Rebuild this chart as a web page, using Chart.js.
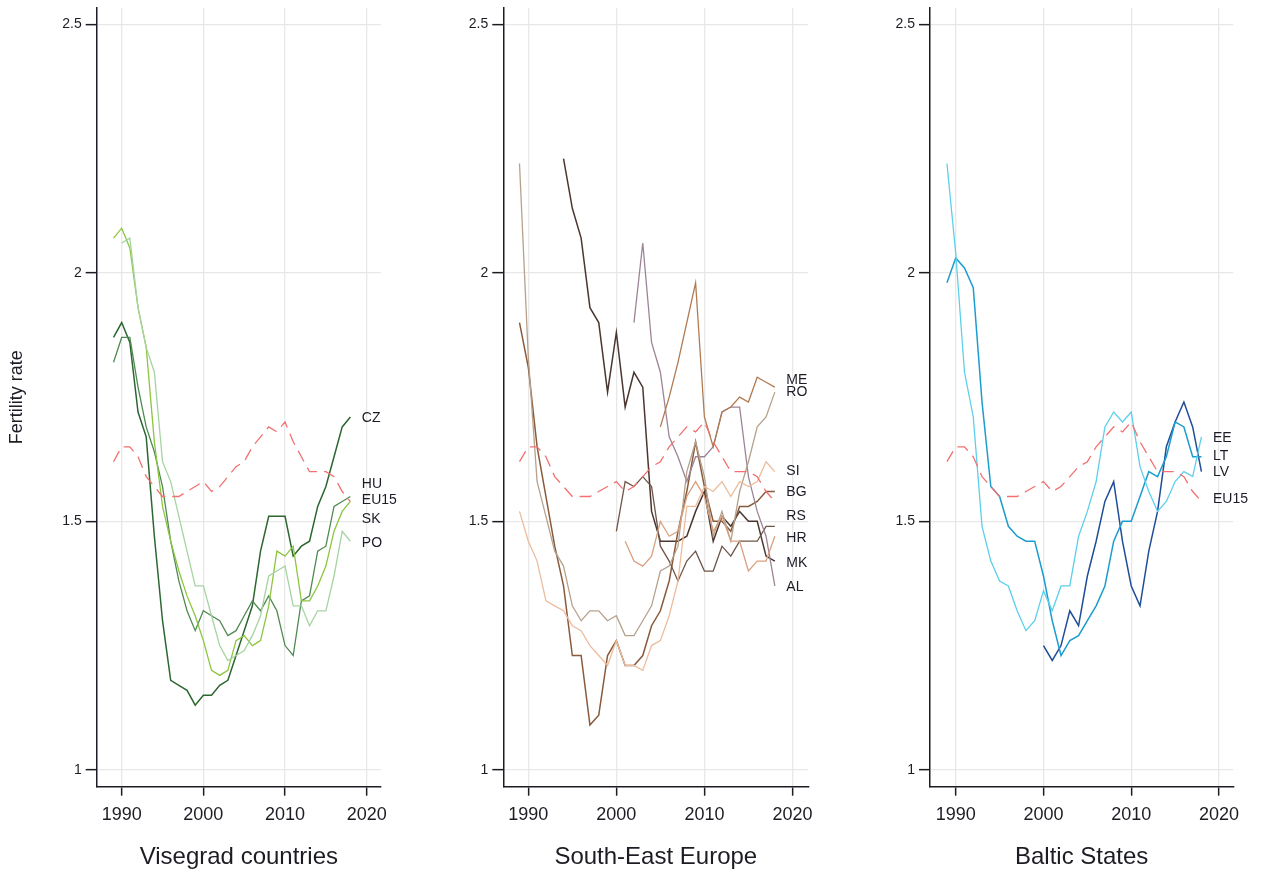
<!DOCTYPE html>
<html>
<head>
<meta charset="utf-8">
<script src="https://cdn.jsdelivr.net/npm/chart.js@4.4.1/dist/chart.umd.min.js"></script>
<style>
html,body{margin:0;padding:0;background:#fff;}
#wrap{position:relative;width:1270px;height:877px;overflow:hidden;background:#fff;}
canvas{position:absolute;top:0;}
</style>
</head>
<body>
<div id="wrap">
<canvas id="c1" width="400" height="877" style="left:0px;width:400px;height:877px"></canvas>
<canvas id="c2" width="410" height="877" style="left:420px;width:410px;height:877px"></canvas>
<canvas id="c3" width="420" height="877" style="left:850px;width:420px;height:877px"></canvas>
</div>
<script>
// ---- data (total fertility rate) ----
const xTicks = [1990, 2000, 2010, 2020];
const yTicks = [1, 1.5, 2, 2.5];
const LAST_YEAR = 2018;

// EU15 reference (1989-2018)
const EU15_FROM = 1989;
const EU15 = [1.62,1.65,1.65,1.63,1.59,1.57,1.55,1.55,1.55,1.56,
              1.57,1.58,1.56,1.57,1.59,1.61,1.62,1.65,1.67,1.69,
              1.68,1.70,1.66,1.63,1.60,1.60,1.60,1.59,1.56,1.54];

// Visegrad countries
const CZ_FROM = 1989;
const CZ = [1.87,1.90,1.86,1.72,1.67,1.47,1.30,1.18,1.17,1.16,
            1.13,1.15,1.15,1.17,1.18,1.23,1.28,1.33,1.44,1.51,
            1.51,1.51,1.43,1.45,1.46,1.53,1.57,1.63,1.69,1.71];
const HU_FROM = 1989;
const HU = [1.82,1.87,1.87,1.77,1.69,1.64,1.57,1.46,1.38,1.32,
            1.28,1.32,1.31,1.30,1.27,1.28,1.31,1.34,1.32,1.35,
            1.32,1.25,1.23,1.34,1.35,1.44,1.45,1.53,1.54,1.55];
const SK_FROM = 1989;
const SK = [2.07,2.09,2.05,1.93,1.85,1.66,1.53,1.46,1.40,1.35,
            1.31,1.26,1.20,1.19,1.20,1.26,1.27,1.25,1.26,1.33,
            1.44,1.43,1.45,1.34,1.34,1.37,1.41,1.48,1.52,1.54];
const PO_FROM = 1990;
const PO = [2.06,2.07,1.93,1.85,1.80,1.62,1.58,1.51,1.44,
            1.37,1.37,1.31,1.25,1.22,1.23,1.24,1.27,1.31,1.39,
            1.40,1.41,1.33,1.33,1.29,1.32,1.32,1.39,1.48,1.46];

// South-East Europe
const RO_FROM = 1989;
const RO = [2.22,1.83,1.58,1.51,1.44,1.41,1.33,1.30,1.32,1.32,
            1.30,1.31,1.27,1.27,1.30,1.33,1.40,1.41,1.45,1.60,
            1.66,1.59,1.47,1.52,1.46,1.56,1.62,1.69,1.71,1.76];
const BG_FROM = 1989;
const BG = [1.90,1.81,1.65,1.55,1.45,1.37,1.23,1.23,1.09,1.11,
            1.23,1.26,1.21,1.21,1.23,1.29,1.32,1.38,1.48,1.56,
            1.66,1.57,1.50,1.50,1.48,1.53,1.53,1.54,1.56,1.56];
const SI_FROM = 1989;
const SI = [1.52,1.46,1.42,1.34,1.33,1.32,1.29,1.28,1.25,1.23,
            1.21,1.26,1.21,1.21,1.20,1.25,1.26,1.31,1.38,1.53,
            1.53,1.57,1.56,1.58,1.55,1.58,1.57,1.58,1.62,1.60];
const MK_FROM = 1994;
const MK = [2.23,2.13,2.07,1.93,1.90,1.76,1.88,1.73,1.80,1.77,
            1.52,1.46,1.46,1.46,1.47,1.52,1.56,1.46,1.51,1.49,
            1.52,1.50,1.50,1.43,1.42];
const RS_FROM = 2000;
const RS = [1.48,1.58,1.57,1.59,1.57,1.45,1.42,1.38,1.42,1.44,
            1.40,1.40,1.45,1.43,1.46,1.46,1.46,1.49,1.49];
const HR_FROM = 2001;
const HR = [1.46,1.42,1.41,1.43,1.50,1.47,1.48,1.55,1.58,1.55,
            1.48,1.51,1.46,1.46,1.40,1.42,1.42,1.47];
const AL_FROM = 2002;
const AL = [1.90,2.06,1.86,1.80,1.67,1.63,1.58,1.63,1.63,1.65,
            1.72,1.73,1.73,1.59,1.52,1.47,1.37];
const ME_FROM = 2005;
const ME = [1.69,1.75,1.82,1.90,1.98,1.71,1.65,1.72,1.73,1.75,
            1.74,1.79,1.78,1.77];

// Baltic States
const EE_FROM = 1989;
const EE = [2.22,2.04,1.80,1.71,1.49,1.42,1.38,1.37,1.32,1.28,
            1.30,1.36,1.32,1.37,1.37,1.47,1.52,1.58,1.69,1.72,
            1.70,1.72,1.61,1.56,1.52,1.54,1.58,1.60,1.59,1.67];
const LT_FROM = 1989;
const LT = [1.98,2.03,2.01,1.97,1.74,1.57,1.55,1.49,1.47,1.46,
            1.46,1.39,1.30,1.23,1.26,1.27,1.30,1.33,1.37,1.46,
            1.50,1.50,1.55,1.60,1.59,1.63,1.70,1.69,1.63,1.63];
const LV_FROM = 2000;
const LV = [1.25,1.22,1.25,1.32,1.29,1.39,1.46,1.54,1.58,1.46,
            1.37,1.33,1.44,1.52,1.65,1.70,1.74,1.69,1.60];

// end-label texts and the fertility values at which they sit
const labels1 = ['CZ','HU','EU15','SK','PO'];
const labelAt1 = [1.708,1.575,1.543,1.505,1.457];
const labels2 = ['ME','RO','SI','BG','RS','HR','MK','AL'];
const labelAt2 = [1.785,1.759,1.602,1.559,1.511,1.467,1.416,1.368];
const labels3 = ['EE','LT','LV','EU15'];
const labelAt3 = [1.668,1.631,1.598,1.545];

// ---- drawing ----
Chart.defaults.font.family = "'Liberation Sans', Arial, Helvetica, sans-serif";
Chart.defaults.color = '#1c1c24';

function pts(from, vals) { return vals.map((v, i) => ({x: from + i, y: v})); }

function labelPlugin(texts, values, dx) {
  return {
    id: 'endLabels',
    afterDatasetsDraw(chart) {
      const ctx = chart.ctx, xs = chart.scales.x, ys = chart.scales.y;
      ctx.save();
      ctx.font = "14px 'Liberation Sans', Arial, sans-serif";
      ctx.fillStyle = '#1c1c28';
      ctx.textAlign = 'left';
      ctx.textBaseline = 'middle';
      const px = xs.getPixelForValue(LAST_YEAR) + dx;
      texts.forEach((t, i) => ctx.fillText(t, px, ys.getPixelForValue(values[i])));
      ctx.restore();
    }
  };
}

const EU_STYLE = {color: '#f37070', dash: [12, 7], width: 1.3};

function noPad(s) { s.paddingTop = 0; s.paddingBottom = 0; s.paddingLeft = 0; s.paddingRight = 0; }

function panel(id, cfg) {
  const gridCommon = {color: '#e8e8e8', lineWidth: 1.3, tickColor: '#1c1c24', tickWidth: 1.5};
  new Chart(document.getElementById(id), {
    type: 'line',
    data: {
      datasets: cfg.series.map(s => ({
        label: s.name,
        data: pts(s.from, s.vals),
        borderColor: s.color,
        borderWidth: s.width || 1.3,
        borderDash: s.dash || [],
        pointRadius: 0, pointHoverRadius: 0,
        tension: 0, fill: false
      }))
    },
    options: {
      responsive: false, animation: false, devicePixelRatio: 1,
      events: [],
      layout: {autoPadding: false, padding: {left: 0, top: 8, right: cfg.padRight, bottom: 0}},
      plugins: {legend: {display: false}, tooltip: {enabled: false}},
      scales: {
        x: {
          type: 'linear', position: 'bottom', min: cfg.xMin, max: cfg.xMax,
          afterBuildTicks: s => { s.ticks = xTicks.map(v => ({value: v})); },
          afterFit: s => { s.height = 90.3; noPad(s); },
          ticks: {autoSkip: false, maxRotation: 0, font: {size: 18}, color: '#1c1c24', padding: 8.5,
                  callback: v => String(v)},
          grid: Object.assign({tickLength: 9}, gridCommon),
          border: {display: true, color: '#1c1c24', width: 1.5},
          title: {display: true, text: cfg.title, font: {size: 24}, color: '#1c1c24',
                  padding: {top: 0, bottom: 5}}
        },
        y: {
          type: 'linear', position: 'left', min: 0.966, max: 2.533,
          afterBuildTicks: s => { s.ticks = yTicks.map(v => ({value: v})); },
          afterFit: s => { s.width = cfg.yWidth; noPad(s); },
          ticks: {autoSkip: false, font: {size: 14}, color: '#1c1c24', padding: 4,
                  callback: v => String(v)},
          grid: Object.assign({tickLength: 11}, gridCommon),
          border: {display: true, color: '#1c1c24', width: 1.5},
          title: {display: !!cfg.yTitle, text: cfg.yTitle || '', font: {size: 18}, color: '#1c1c24',
                  padding: {top: 6, bottom: 0}}
        }
      }
    },
    plugins: [labelPlugin(cfg.labels, cfg.labelAt, 11.5)]
  });
}

panel('c1', {
  title: 'Visegrad countries', yTitle: 'Fertility rate',
  xMin: 1986.94, xMax: 2021.75, yWidth: 96.7, padRight: 19,
  labels: labels1, labelAt: labelAt1,
  series: [
    {name: 'EU15', from: EU15_FROM, vals: EU15, color: EU_STYLE.color, dash: EU_STYLE.dash},
    {name: 'PO', from: PO_FROM, vals: PO, color: '#a6d3a2'},
    {name: 'SK', from: SK_FROM, vals: SK, color: '#8cc63f'},
    {name: 'HU', from: HU_FROM, vals: HU, color: '#4f8a52'},
    {name: 'CZ', from: CZ_FROM, vals: CZ, color: '#2c6631', width: 1.5}
  ]
});

panel('c2', {
  title: 'South-East Europe',
  xMin: 1987.16, xMax: 2021.8, yWidth: 83.3, padRight: 21.7,
  labels: labels2, labelAt: labelAt2,
  series: [
    {name: 'EU15', from: EU15_FROM, vals: EU15, color: EU_STYLE.color, dash: EU_STYLE.dash},
    {name: 'SI', from: SI_FROM, vals: SI, color: '#ecbc9c'},
    {name: 'HR', from: HR_FROM, vals: HR, color: '#d9a080'},
    {name: 'RO', from: RO_FROM, vals: RO, color: '#b6a28c'},
    {name: 'ME', from: ME_FROM, vals: ME, color: '#b07a52'},
    {name: 'AL', from: AL_FROM, vals: AL, color: '#9c8496'},
    {name: 'RS', from: RS_FROM, vals: RS, color: '#6e5649'},
    {name: 'BG', from: BG_FROM, vals: BG, color: '#8a5a3c', width: 1.5},
    {name: 'MK', from: MK_FROM, vals: MK, color: '#4b3630', width: 1.5}
  ]
});

panel('c3', {
  title: 'Baltic States',
  xMin: 1987.07, xMax: 2021.63, yWidth: 80, padRight: 36.7,
  labels: labels3, labelAt: labelAt3,
  series: [
    {name: 'EU15', from: EU15_FROM, vals: EU15, color: EU_STYLE.color, dash: EU_STYLE.dash},
    {name: 'EE', from: EE_FROM, vals: EE, color: '#5ccfea'},
    {name: 'LT', from: LT_FROM, vals: LT, color: '#1d9ccf', width: 1.5},
    {name: 'LV', from: LV_FROM, vals: LV, color: '#1f4d97', width: 1.5}
  ]
});
</script>
</body>
</html>
